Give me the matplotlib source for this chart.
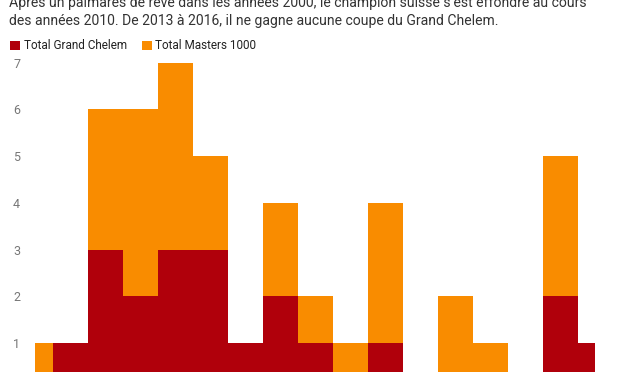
import matplotlib
matplotlib.use("Agg")
import matplotlib.pyplot as plt
from matplotlib.patches import Rectangle

# données (Roger Federer, titres par année)
years = [2002, 2003, 2004, 2005, 2006, 2007, 2008, 2009, 2010,
         2011, 2012, 2013, 2014, 2015, 2016, 2017, 2018]
grand_chelem = [0, 1, 3, 2, 3, 3, 1, 2, 1, 0, 1, 0, 0, 0, 0, 2, 1]
masters_1000 = [1, 0, 3, 4, 4, 2, 0, 2, 1, 1, 3, 0, 2, 1, 0, 3, 0]
yticks = [1, 2, 3, 4, 5, 6, 7]

title_lines = [
    "Après un palmarès de rêve dans les années 2000, le champion suisse s’est effondré au cours",
    "des années 2010. De 2013 à 2016, il ne gagne aucune coupe du Grand Chelem.",
]
legend_labels = ["Total Grand Chelem", "Total Masters 1000"]

RED = "#b0000b"
ORANGE = "#f98c00"
W, H = 617, 372

plt.rcParams["font.family"] = ["Roboto", "DejaVu Sans"]

fig = plt.figure(figsize=(W / 100, H / 100), dpi=100)

# axes: x 35..595 px, y 55..372 px (0 falls below the visible image)
ax = fig.add_axes([35 / W, 0, 560 / W, (H - 55) / H])
ax.bar(years, grand_chelem, width=1.0, color=RED, linewidth=0)
ax.bar(years, masters_1000, width=1.0, bottom=grand_chelem, color=ORANGE, linewidth=0)

px_per_unit = 46.7
ax.set_xlim(2002, 2018)
ax.set_ylim((389.7 - H) / px_per_unit, 7 + (62.7 - 55) / px_per_unit)
ax.set_yticks(yticks)
ax.set_yticklabels([str(t) for t in yticks])
ax.set_xticks([])
ax.tick_params(axis="y", length=0, pad=10.8, labelsize=9, labelcolor="#777777")
for s in ax.spines.values():
    s.set_visible(False)

# texte d'introduction
fig.text(9 / W, 1 - 6.7 / H, title_lines[0], fontsize=10.1, color="#333333", va="baseline")
fig.text(9 / W, 1 - 25 / H, title_lines[1], fontsize=10.1, color="#333333", va="baseline")

# légende
for x0, tx, lab, col in [(10, 24, legend_labels[0], RED), (142, 155, legend_labels[1], ORANGE)]:
    fig.patches.append(Rectangle((x0 / W, 1 - 49.7 / H), 9.5 / W, 9 / H,
                                 transform=fig.transFigure, color=col, linewidth=0))
    fig.text(tx / W, 1 - 49.3 / H, lab, fontsize=8.5, color="#222222", va="baseline")

fig.savefig("out.png", dpi=100)
